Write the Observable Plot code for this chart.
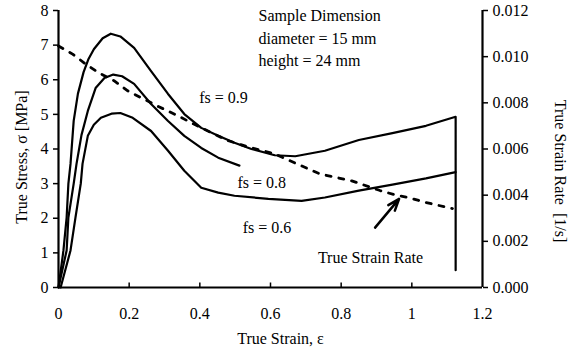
<!DOCTYPE html>
<html>
<head>
<meta charset="utf-8">
<script src="https://cdn.jsdelivr.net/npm/d3@7"></script>
<script src="https://cdn.jsdelivr.net/npm/@observablehq/plot@0.6"></script>
<style>
  html, body { margin: 0; padding: 0; background: #fff; }
  svg text { font-family: "Liberation Serif", "Times New Roman", serif; }
</style>
</head>
<body>
<div id="chart"></div>
<script>
// ---- data ----
const strainFs09 = [0, 0.014, 0.023, 0.028, 0.034, 0.043, 0.055, 0.071, 0.085, 0.1, 0.125, 0.148, 0.175, 0.214, 0.262, 0.31, 0.356, 0.404, 0.452, 0.498, 0.546, 0.612, 0.67, 0.754, 0.85, 0.945, 1.04, 1.124, 1.124];
const stressFs09 = [0, 1.07, 2.02, 3.0, 3.57, 4.81, 5.6, 6.22, 6.6, 6.88, 7.2, 7.33, 7.25, 6.92, 6.25, 5.59, 5.01, 4.61, 4.38, 4.18, 4.0, 3.82, 3.79, 3.95, 4.26, 4.46, 4.67, 4.93, 0.5];

const strainFs08 = [0, 0.023, 0.028, 0.043, 0.051, 0.065, 0.083, 0.105, 0.13, 0.155, 0.18, 0.214, 0.262, 0.31, 0.356, 0.404, 0.452, 0.512];
const stressFs08 = [0, 1.07, 2.02, 3.0, 3.57, 4.4, 5.1, 5.76, 6.05, 6.15, 6.1, 5.88, 5.3, 4.81, 4.38, 4.03, 3.75, 3.52];

const strainFs06 = [0.006, 0.034, 0.048, 0.063, 0.068, 0.083, 0.1, 0.12, 0.15, 0.175, 0.21, 0.262, 0.31, 0.356, 0.404, 0.452, 0.498, 0.594, 0.688, 0.754, 0.85, 0.945, 1.04, 1.124];
const stressFs06 = [0, 1.07, 2.02, 3.0, 3.57, 4.38, 4.7, 4.9, 5.02, 5.04, 4.9, 4.52, 3.95, 3.37, 2.88, 2.74, 2.65, 2.56, 2.5, 2.6, 2.8, 2.97, 3.15, 3.33];

const strainRateX = [0, 0.04, 0.077, 0.114, 0.157, 0.196, 0.28, 0.338, 0.375, 0.432, 0.48, 0.537, 0.612, 0.668, 0.74, 0.83, 0.91, 0.96, 0.99, 1.04, 1.115];
const strainRate  = [0.01046, 0.01011, 0.00968, 0.0093, 0.00896, 0.00852, 0.00786, 0.00744, 0.00714, 0.00671, 0.00636, 0.00609, 0.00579, 0.0054, 0.00492, 0.00462, 0.0042, 0.00398, 0.0039, 0.00368, 0.00342];

const xTicks = [0, 0.2, 0.4, 0.6, 0.8, 1.0, 1.2];
const xTickLabels = ["0", "0.2", "0.4", "0.6", "0.8", "1", "1.2"];
const yTicks = [0, 1, 2, 3, 4, 5, 6, 7, 8];
const yTickLabels = ["0", "1", "2", "3", "4", "5", "6", "7", "8"];
const rateTicks = [0, 0.002, 0.004, 0.006, 0.008, 0.010, 0.012];
const rateTickLabels = ["0.000", "0.002", "0.004", "0.006", "0.008", "0.010", "0.012"];

const xLabel = "True Strain, \u03b5";
const yLabel = "True Stress, \u03c3 [MPa]";
const y2Label = "True Strain Rate\u00a0\u00a0[1/s]";

const seriesLabels = ["fs = 0.9", "fs = 0.8", "fs = 0.6", "True Strain Rate"];
const seriesLabelX = [0.467, 0.575, 0.59, 0.883];
const seriesLabelY = [5.47, 3.03, 1.73, 0.86];

const boxLines = ["Sample Dimension", "diameter = 15 mm", "height = 24 mm"];
const boxX = [0.566, 0.566, 0.566];
const boxY = [7.84, 7.18, 6.54];

const arrowFrom = [0.896, 1.73];
const arrowTo = [0.964, 2.56];

// ---- build tables ----
const yMax = 8, rateMax = 0.012;
const ratePerUnit = rateMax / yMax;
const toRows = (xs, ys) => xs.map((x, i) => ({x, y: ys[i]}));
const fs09 = toRows(strainFs09, stressFs09);
const fs08 = toRows(strainFs08, stressFs08);
const fs06 = toRows(strainFs06, stressFs06);
const rate = toRows(strainRateX, strainRate);
const labels = seriesLabels.map((t, i) => ({t, x: seriesLabelX[i], y: seriesLabelY[i]}));
const box = boxLines.map((t, i) => ({t, x: boxX[i], y: boxY[i]}));
const xFmt = new Map(xTicks.map((t, i) => [t, xTickLabels[i]]));
const yFmt = new Map(yTicks.map((t, i) => [t, yTickLabels[i]]));
const rateTickPos = rateTicks.map(v => v / ratePerUnit);
const rFmt = new Map(rateTickPos.map((p, i) => [p, rateTickLabels[i]]));

const fontSize = 16;
const ff = "Liberation Serif";

const chart = Plot.plot({
  width: 579,
  height: 352,
  marginLeft: 58,
  marginRight: 97,
  marginTop: 10,
  marginBottom: 65,
  x: {domain: [0, 1.2]},
  y: {domain: [0, yMax]},
  style: {fontFamily: ff, fontSize: fontSize + "px", background: "#fff", color: "#000"},
  marks: [
    Plot.axisY(yTicks, {anchor: "left", tickSize: 5, tickPadding: 5, strokeWidth: 1.5, fontFamily: ff, fontSize: fontSize, tickFormat: d => yFmt.get(d), label: null}),
    Plot.axisY(rateTickPos, {anchor: "right", tickSize: 5, tickPadding: 5, strokeWidth: 1.5, fontFamily: ff, fontSize: fontSize, tickFormat: d => rFmt.get(d), label: null}),
    Plot.axisX(xTicks, {anchor: "bottom", tickSize: 0, tickPadding: 20, fontFamily: ff, fontSize: fontSize, tickFormat: d => xFmt.get(d), label: null}),
    Plot.ruleX(xTicks.slice(1, -1), {y1: 0, y2: 0.13, stroke: "#000", strokeWidth: 1.5}),
    Plot.ruleX([0, 1.2], {stroke: "#000", strokeWidth: 2.2}),
    Plot.ruleY([0], {stroke: "#000", strokeWidth: 2.2}),
    Plot.line(fs09, {x: "x", y: "y", stroke: "#000", strokeWidth: 2.2}),
    Plot.line(fs08, {x: "x", y: "y", stroke: "#000", strokeWidth: 2.2}),
    Plot.line(fs06, {x: "x", y: "y", stroke: "#000", strokeWidth: 2.2}),
    Plot.line(rate, {x: "x", y: d => d.y / ratePerUnit, stroke: "#000", strokeWidth: 2.8, strokeDasharray: "5,8"}),
    Plot.arrow([{x1: arrowFrom[0], y1: arrowFrom[1], x2: arrowTo[0], y2: arrowTo[1]}], {x1: "x1", y1: "y1", x2: "x2", y2: "y2", stroke: "#000", strokeWidth: 2.5, headLength: 16, headAngle: 40}),
    Plot.text(labels, {x: "x", y: "y", text: "t", fontFamily: ff, fontSize: fontSize, fill: "#000"}),
    Plot.text(box, {x: "x", y: "y", text: "t", textAnchor: "start", fontFamily: ff, fontSize: fontSize, fill: "#000"}),
    Plot.text([xLabel], {frameAnchor: "bottom", textAnchor: "middle", lineAnchor: "middle", dx: 10, dy: 51, fontFamily: ff, fontSize: fontSize, fill: "#000"}),
    Plot.text([yLabel], {frameAnchor: "left", textAnchor: "middle", lineAnchor: "middle", rotate: -90, dx: -37, dy: 8, fontFamily: ff, fontSize: fontSize, fill: "#000"}),
    Plot.text([y2Label], {frameAnchor: "right", textAnchor: "middle", lineAnchor: "middle", rotate: 90, dx: 78, dy: 22, fontFamily: ff, fontSize: fontSize, fill: "#000"})
  ]
});
document.getElementById("chart").appendChild(chart);
</script>
</body>
</html>
